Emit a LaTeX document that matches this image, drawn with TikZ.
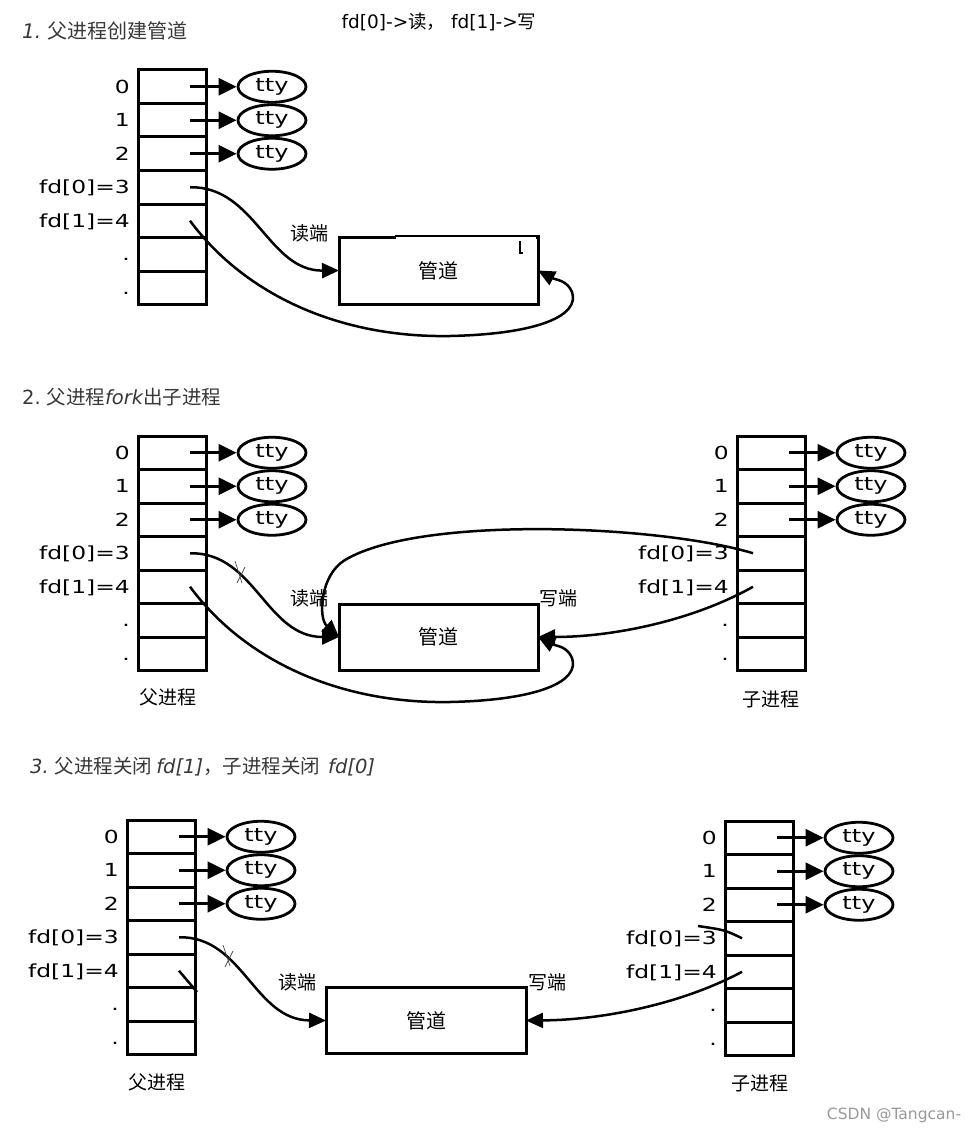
\documentclass[tikz,border=0pt]{standalone}
\usepackage{fontspec}
\usetikzlibrary{arrows.meta,shapes.geometric}
\setmainfont{DejaVu Sans}
\newfontfamily\latw[FakeStretch=1.3]{DejaVu Sans}
\newfontfamily\cjk{Noto Sans CJK SC}

\tikzset{
 cell/.style={draw, line width=3pt, minimum width=68pt, minimum height=33.5pt, inner sep=0pt, outer sep=0pt},
 lbl/.style={anchor=east, inner sep=0pt, text height=13.1pt, text depth=0pt, font=\latw\fontsize{18}{20}\selectfont},
 tty/.style={draw, ellipse, line width=2.8pt, minimum width=68pt, minimum height=31pt, inner sep=0pt, font=\latw\fontsize{18.5}{20}\selectfont},
 ttyarrow/.style={line width=2.8pt, -{Triangle[length=18pt,width=17pt]}},
 pipe/.style={draw, line width=3pt, inner sep=0pt, outer sep=0pt, font=\cjk\fontsize{20}{22}\selectfont},
 link/.style={line width=2.5pt, -{Triangle[length=17pt,width=15pt]}},
 stub/.style={line width=2.5pt},
 xmark/.style={line width=0.7pt, black!70},
 cjklbl/.style={inner sep=0pt, font=\cjk\fontsize{19}{21}\selectfont},
 title/.style={anchor=west, inner sep=0pt, text=black!78, font=\cjk\fontsize{20}{22}\selectfont},
}

% #1 prefix, #2 table left x, #3 table top y, #4 tty centre x
\newcommand{\fdtab}[4]{%
  \foreach \i/\t in {0/0,1/1,2/2,3/fd[0]=3,4/fd[1]=4,5/.\hspace{5pt},6/.\hspace{5pt}} {
    \node[cell] (#1c\i) at ({#2+34}, {#3+16.75+33.5*\i}) {};
    \node[lbl] (#1l\i) at ({#2-8}, {#3+16.75+33.5*\i}) {\t};
  }
  \foreach \i in {0,1,2} {
    \node[tty] (#1t\i) at (#4, {#3+16.75+33.5*\i}) {tty};
    \draw[ttyarrow] ([xshift=18pt]#1c\i.center) -- (#1t\i.west);
  }
}

\begin{document}
\begin{tikzpicture}[x=1pt,y=-1pt]
\useasboundingbox (0,0) rectangle (971,1134);
\fill[white] (0,0) rectangle (971,1134);

% ---------- Panel 1 ----------
\node[title] (t1) at (22,31) {{\fontspec{DejaVu Sans}\itshape 1.} 父进程创建管道};
\node[inner sep=0pt, font=\fontsize{18.5}{20}\selectfont] (note) at (439,22) {fd[0]->{\cjk 读，} fd[1]->{\cjk 写}};

\fdtab{a}{138}{70}{272}
\node[pipe, minimum width=199pt, minimum height=67pt] (pipe1) at (438.5,270.5) {管道};
\draw[white, line width=3.6pt] (396,237.5) -- (536.2,237.5);
\draw[line width=1.5pt] (395,236.2) -- (539.5,236.2);
\draw[line width=1.1pt] (520,241) -- (520,253) -- (523,253);
\node[cjklbl] (r1) at (309,233) {读端};

\draw[link] ([xshift=18pt]ac3.center) .. controls (255,186) and (268,271) .. (pipe1.west);
\draw[link] ([xshift=18pt]ac4.center) .. controls (245,295) and (340,338) .. (450,336)
  .. controls (540,334) and (580,315) .. (572,292)
  .. controls (567,280) and (556,280) .. (pipe1.east);

% ---------- Panel 2 ----------
\node[title, font=\cjk\fontsize{19.5}{22}\selectfont] (t2) at (22,397) {{\fontspec{DejaVu Sans}2.} 父进程{\fontspec{DejaVu Sans}\itshape fork}出子进程};

\fdtab{b}{138}{436}{272}
\fdtab{c}{737}{436}{871}
\node[pipe, minimum width=199pt, minimum height=66pt] (pipe2) at (438.5,637) {管道};
\node[cjklbl] (r2) at (309,598) {读端};
\node[cjklbl] (w2) at (558,598) {写端};
\node[cjklbl] (pp2) at (168,697) {父进程};
\node[cjklbl] (cp2) at (771,699) {子进程};

\draw[link] ([xshift=18pt]bc3.center) .. controls (255,552) and (266,637) .. (pipe2.west);
\draw[xmark] (235,561) -- (242,583) (245,567) -- (237,583);
\draw[link] ([xshift=18pt]bc4.center) .. controls (245,661) and (340,704) .. (450,702)
  .. controls (540,700) and (580,681) .. (572,658)
  .. controls (567,646) and (556,646) .. (pipe2.east);
\draw[link] ([xshift=-18pt]cc3.center) .. controls (660,525) and (420,515) .. (345,560)
  .. controls (320,575) and (318,618) .. (pipe2.west);
\draw[link] ([xshift=-18pt]cc4.center) .. controls (690,622) and (610,637) .. (pipe2.east);

% ---------- Panel 3 ----------
\node[title, font=\cjk\fontsize{19.5}{22}\selectfont] (t3) at (30,767)
  {{\fontspec{DejaVu Sans}\itshape 3.}\hspace{6pt}父进程关闭\hspace{4pt}{\fontspec{DejaVu Sans}\itshape fd[1]}，子进程关闭\hspace{8pt}{\fontspec{DejaVu Sans}\itshape fd[0]}};

\fdtab{d}{127}{820}{261}
\fdtab{e}{725}{821}{859}
\node[pipe, minimum width=200pt, minimum height=66pt] (pipe3) at (426,1020.5) {管道};
\node[cjklbl] (r3) at (297,982) {读端};
\node[cjklbl] (w3) at (547,982) {写端};
\node[cjklbl] (pp3) at (157,1082) {父进程};
\node[cjklbl] (cp3) at (760,1083) {子进程};

\draw[link] ([xshift=18pt]dc3.center) .. controls (243,936) and (254,1020) .. (pipe3.west);
\draw[xmark] (223,945) -- (230,966) (233,951) -- (225,967);
\coordinate (dstub) at (197,992);
\draw[stub] ([xshift=18pt]dc4.center) -- (dstub);
\coordinate (estub) at (698,926);
\draw[stub] ([xshift=-17pt]ec3.center) .. controls (725,930) .. (estub);
\draw[link] ([xshift=-17pt]ec4.center) .. controls (680,1005) and (600,1020) .. (pipe3.east);

% watermark
\node[inner sep=0pt, text=black!40, font=\fontsize{15.5}{17}\selectfont] (wm) at (894,1115) {CSDN @Tangcan-};
\end{tikzpicture}
\end{document}
